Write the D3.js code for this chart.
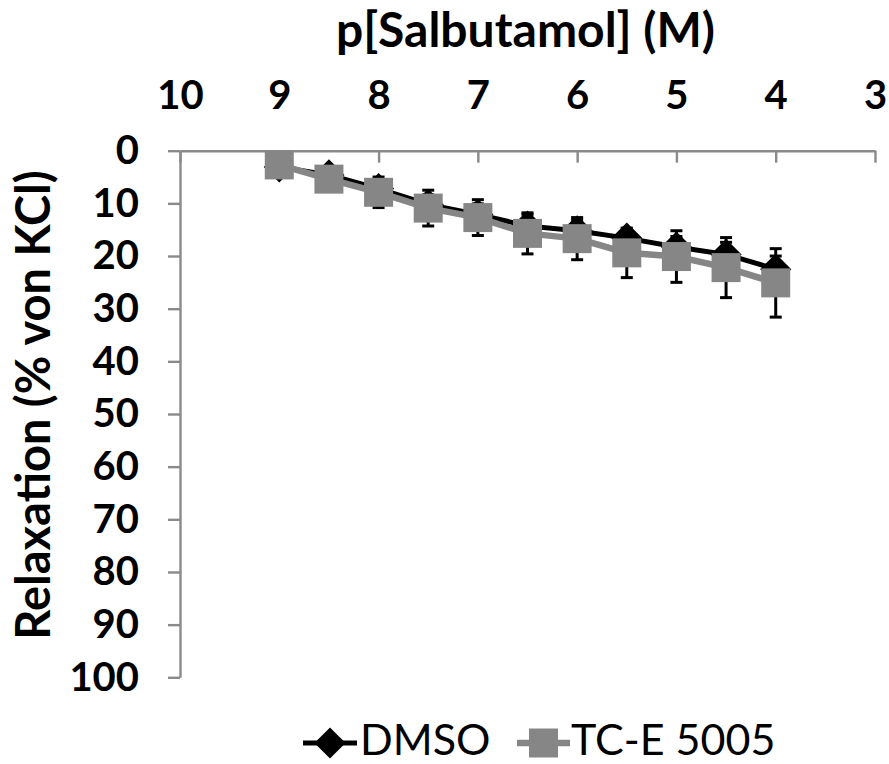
<!DOCTYPE html>
<html>
<head>
<meta charset="utf-8">
<script src="https://cdn.jsdelivr.net/npm/d3@7"></script>
<style>
  html, body { margin: 0; padding: 0; background: #fff; }
  svg { display: block; font-family: Lato, "Open Sans", sans-serif; }
</style>
</head>
<body>
<svg id="chart" width="889" height="764"></svg>
<script>
// ---- data ----
const xTickValues = [10, 9, 8, 7, 6, 5, 4, 3];
const yTickValues = [0, 10, 20, 30, 40, 50, 60, 70, 80, 90, 100];
const concentrations = [9, 8.5, 8, 7.5, 7, 6.5, 6, 5.5, 5, 4.5, 4];
const dmsoValues = [3.1, 4.6, 7.2, 10.2, 12.1, 14.3, 15.2, 16.6, 18.3, 19.7, 22.5];
const dmsoErrors = [1.0, 1.2, 1.5, 1.8, 2.0, 2.2, 2.0, 1.8, 2.0, 2.3, 2.5];
const tceValues = [2.7, 5.4, 7.9, 10.9, 12.7, 15.7, 16.7, 19.4, 20.1, 22.2, 25.1];
const tceErrors = [1.5, 2.0, 2.9, 3.4, 3.4, 3.9, 4.0, 4.7, 4.9, 5.7, 6.5];
const seriesNames = ["DMSO", "TC-E 5005"];
const xTitle = "p[Salbutamol] (M)";
const yTitle = "Relaxation (% von KCl)";

(function () {
const dmsoData = concentrations.map((c, i) => ({ x: c, y: dmsoValues[i], e: dmsoErrors[i] }));
const tceData = concentrations.map((c, i) => ({ x: c, y: tceValues[i], e: tceErrors[i] }));

// ---- layout ----
const svg = d3.select("#chart");
const pLeft = 180, pRight = 875, pTop = 150.7, pBottom = 677.3;
const axisColor = "#8a8a8a";
const grey = "#868686";

const x = d3.scaleLinear().domain([10, 3]).range([pLeft, pRight]);
const y = d3.scaleLinear().domain([0, 100]).range([pTop, pBottom]);

svg.append("rect").attr("width", 889).attr("height", 764).attr("fill", "#fff");

// x axis (top)
const xAxis = svg.append("g")
  .attr("transform", `translate(0,${pTop})`)
  .call(d3.axisTop(x).tickValues(xTickValues).tickSizeInner(-12).tickSizeOuter(0).tickPadding(42).tickFormat(d3.format("d")));
xAxis.select(".domain").attr("stroke", axisColor).attr("stroke-width", 2.4);
xAxis.selectAll(".tick line").attr("stroke", axisColor).attr("stroke-width", 2.4);
xAxis.selectAll(".tick text")
  .attr("fill", "#000").attr("font-size", 40).attr("font-weight", 700)
  .attr("font-family", "Lato, sans-serif");

// y axis (left)
const yAxis = svg.append("g")
  .attr("transform", `translate(${pLeft},0)`)
  .call(d3.axisLeft(y).tickValues(yTickValues).tickSizeInner(12).tickSizeOuter(0).tickPadding(29).tickFormat(d3.format("d")));
yAxis.select(".domain").attr("stroke", axisColor).attr("stroke-width", 2.4);
yAxis.selectAll(".tick line").attr("stroke", axisColor).attr("stroke-width", 2.4);
yAxis.selectAll(".tick text")
  .attr("fill", "#000").attr("font-size", 40).attr("font-weight", 700)
  .attr("font-family", "Lato, sans-serif");

// titles
svg.append("text")
  .attr("x", (pLeft + pRight) / 2 - 2).attr("y", 47)
  .attr("text-anchor", "middle")
  .attr("font-size", 48).attr("font-weight", 700)
  .text(xTitle);

svg.append("text")
  .attr("transform", `translate(50,${405}) rotate(-90)`)
  .attr("text-anchor", "middle")
  .attr("font-size", 47).attr("font-weight", 700)
  .text(yTitle);

// ---- error bars ----
const capHalf = 6;
function errorBars(data) {
  const g = svg.append("g").attr("stroke", "#000").attr("stroke-width", 3);
  data.forEach(d => {
    const cx = x(d.x), y1 = y(d.y - d.e), y2 = y(d.y + d.e);
    g.append("line").attr("x1", cx).attr("x2", cx).attr("y1", y1).attr("y2", y2);
    g.append("line").attr("x1", cx - capHalf).attr("x2", cx + capHalf).attr("y1", y1).attr("y2", y1);
    g.append("line").attr("x1", cx - capHalf).attr("x2", cx + capHalf).attr("y1", y2).attr("y2", y2);
  });
}
errorBars(dmsoData);
errorBars(tceData);

const line = d3.line().x(d => x(d.x)).y(d => y(d.y));
const diamond = d3.symbol().type(d3.symbolSquare).size(22 * 22);
const square = d3.symbol().type(d3.symbolSquare).size(29 * 29);

// DMSO
svg.append("path").datum(dmsoData).attr("d", line)
  .attr("fill", "none").attr("stroke", "#000").attr("stroke-width", 5).attr("stroke-linejoin", "round");
svg.append("g").selectAll("path").data(dmsoData).join("path")
  .attr("d", diamond)
  .attr("transform", d => `translate(${x(d.x)},${y(d.y)}) rotate(45)`)
  .attr("fill", "#000");

// TC-E 5005
svg.append("path").datum(tceData).attr("d", line)
  .attr("fill", "none").attr("stroke", grey).attr("stroke-width", 6.5).attr("stroke-linejoin", "round");
svg.append("g").selectAll("path").data(tceData).join("path")
  .attr("d", square)
  .attr("transform", d => `translate(${x(d.x)},${y(d.y)})`)
  .attr("fill", grey);

// ---- legend ----
const legY = 743;
const legBase = 755;
const leg = svg.append("g");
leg.append("line").attr("x1", 303).attr("x2", 357).attr("y1", legY).attr("y2", legY)
  .attr("stroke", "#000").attr("stroke-width", 5);
leg.append("path").attr("d", diamond).attr("transform", `translate(330,${legY}) rotate(45)`).attr("fill", "#000");
leg.append("text").attr("x", 360).attr("y", legBase)
  .attr("font-size", 43).text(seriesNames[0]);

leg.append("line").attr("x1", 517).attr("x2", 570).attr("y1", legY).attr("y2", legY)
  .attr("stroke", grey).attr("stroke-width", 6.5);
leg.append("path").attr("d", square).attr("transform", `translate(543.5,${legY})`).attr("fill", grey);
leg.append("text").attr("x", 571).attr("y", legBase)
  .attr("font-size", 43).text(seriesNames[1]);
})();
</script>
</body>
</html>
